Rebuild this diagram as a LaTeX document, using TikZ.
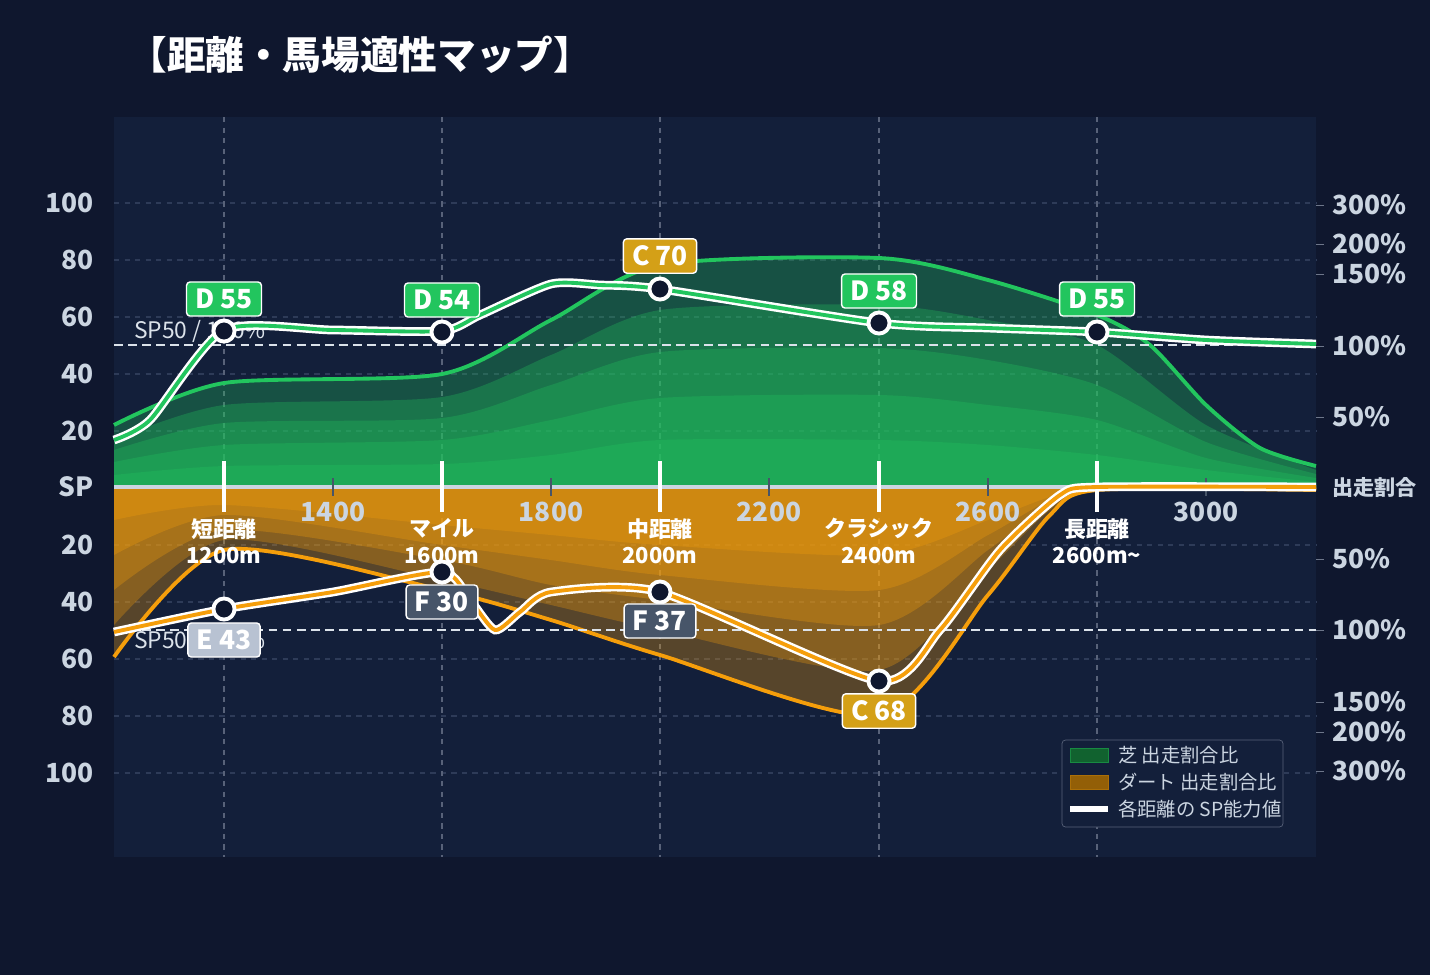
\documentclass[tikz,border=0pt]{standalone}
\usepackage{fontspec}
\setmainfont{Noto Sans CJK JP}
\usetikzlibrary{positioning}
\definecolor{pagebg}{HTML}{0F172E}
\definecolor{plotbg}{HTML}{131F3A}
\definecolor{turf}{HTML}{22C55E}
\definecolor{dirt}{HTML}{F59E0B}
\definecolor{gridc}{HTML}{2E3B58}
\definecolor{axisc}{HTML}{CBD5E1}
\definecolor{gold}{HTML}{D4A017}
\definecolor{slate}{HTML}{475569}
\definecolor{pale}{HTML}{B8C2D2}
\begin{document}
\begin{tikzpicture}[x=0.02cm, y=-0.02cm,
		grid/.style={gridc, dashed, line width=0.6pt},
		vline/.style={gridc!80!white, dashed, line width=0.9pt},
		refline/.style={axisc!70, dash pattern=on 5pt off 3pt, line width=0.9pt},
		ylab/.style={anchor=east, font=\bfseries\fontsize{15}{15}\selectfont, text=axisc},
		rlab/.style={anchor=west, font=\bfseries\fontsize{15}{15}\selectfont, text=axisc},
		xlab/.style={font=\bfseries\fontsize{15}{15}\selectfont, text=axisc},
		catlab/.style={font=\bfseries\fontsize{12.5}{15}\selectfont, text=white, align=center},
		tband/.style={fill=turf, fill opacity=0.3},
		dband/.style={fill=dirt, fill opacity=0.3},
		grade/.style={draw=white, line width=0.8pt, rounded corners=2pt, inner xsep=5pt, inner ysep=4pt, font=\bfseries\fontsize{15}{15}\selectfont, text=white},
		spmark/.style={circle, draw=white, fill=pagebg, line width=2.2pt, inner sep=0pt, minimum size=12pt},
		legtext/.style={anchor=west, font=\fontsize{11}{11}\selectfont, text=axisc}
	]
	\fill[pagebg] (0,0) rectangle (1430,975);
	\useasboundingbox (0,0) rectangle (1430,975);
	\fill[plotbg] (114,117) rectangle (1316,857);

	\node[anchor=west, inner sep=0pt, text=white, font=\bfseries\fontsize{22}{22}\selectfont] (title) at (128,55) {【距離・馬場適性マップ】};

	% grid
	\foreach \y in {203,260,317,374,431,545,602,659,716,773}
		\draw[grid] (114,\y) -- (1316,\y);
	\foreach \x in {224,442,660,879,1097}
		\draw[vline] (\x,117) -- (\x,857);

	% turf bands
	\fill[tband] plot[smooth, tension=0.45] coordinates {(114,425) (224,383) (442,374) (551,320) (660,265) (879,258) (988,280) (1097,315) (1150,345) (1206,405) (1260,448) (1316,466)} -- (1316,487) -- (114,487) -- cycle;
	\fill[tband] plot[smooth, tension=0.45] coordinates {(114,440) (224,405) (442,397) (551,355) (660,310) (879,305) (988,320) (1097,345) (1206,425) (1316,470)} -- (1316,487) -- (114,487) -- cycle;
	\fill[tband] plot[smooth, tension=0.45] coordinates {(114,450) (224,423) (442,418) (551,385) (660,352) (879,348) (988,360) (1097,385) (1206,442) (1316,474)} -- (1316,487) -- (114,487) -- cycle;
	\fill[tband] plot[smooth, tension=0.45] coordinates {(114,462) (224,445) (442,440) (551,420) (660,398) (879,395) (988,405) (1097,420) (1206,458) (1316,478)} -- (1316,487) -- (114,487) -- cycle;
	\fill[tband] plot[smooth, tension=0.45] coordinates {(114,475) (224,466) (442,464) (551,455) (660,440) (879,440) (988,445) (1097,455) (1206,470) (1316,482)} -- (1316,487) -- (114,487) -- cycle;
	\draw[turf, line width=2.2pt] plot[smooth, tension=0.45] coordinates {(114,425) (224,383) (442,374) (551,320) (660,265) (879,258) (988,280) (1097,315) (1150,345) (1206,405) (1260,448) (1316,466)};

	% dirt bands
	\fill[dband] (114,487) -- plot[smooth, tension=0.45] coordinates {(114,657) (224,550) (442,590) (551,620) (660,655) (879,715) (988,595) (1050,515) (1097,490) (1316,490)} -- (1316,487) -- cycle;
	\fill[dband] (114,487) -- plot[smooth, tension=0.45] coordinates {(114,625) (224,540) (442,580) (551,605) (660,630) (879,670) (988,570) (1050,510) (1097,490) (1316,490)} -- (1316,487) -- cycle;
	\fill[dband] (114,487) -- plot[smooth, tension=0.45] coordinates {(114,590) (224,530) (442,560) (551,585) (660,600) (879,625) (988,550) (1050,505) (1097,490) (1316,490)} -- (1316,487) -- cycle;
	\fill[dband] (114,487) -- plot[smooth, tension=0.45] coordinates {(114,555) (224,515) (442,545) (551,560) (660,575) (879,590) (988,535) (1050,500) (1097,490) (1316,490)} -- (1316,487) -- cycle;
	\fill[dband] (114,487) -- plot[smooth, tension=0.45] coordinates {(114,520) (224,505) (442,525) (551,535) (660,545) (879,555) (988,520) (1050,497) (1097,490) (1316,490)} -- (1316,487) -- cycle;
	\draw[dirt, line width=2.2pt] plot[smooth, tension=0.45] coordinates {(114,657) (224,550) (442,590) (551,620) (660,655) (879,715) (988,595) (1050,515) (1097,490) (1316,490)};

	% reference lines
	\draw[refline] (114,345) -- (1316,345);
	\draw[refline] (114,630) -- (1316,630);
	\node[anchor=west, text=axisc!70, font=\fontsize{13}{13}\selectfont] (sp50a) at (128,331) {SP50 / 100\%};
	\node[anchor=west, text=axisc!70, font=\fontsize{13}{13}\selectfont] (sp50b) at (128,641) {SP50 / 100\%};

	% axis line and ticks
	\draw[axisc, line width=2.5pt] (114,487) -- (1316,487);
	\foreach \x in {224,442,660,879,1097}
		\draw[white, line width=2pt] (\x,461) -- (\x,512);
	\foreach \x/\v in {333/1400,551/1800,769/2200,988/2600,1206/3000} {
		\draw[slate, line width=1.5pt] (\x,478) -- (\x,496);
		\node[xlab] (x\v) at (\x,512) {\v};
	}

	% category labels
	\foreach \x/\t/\d in {224/短距離/1200m, 442/マイル/1600m, 660/中距離/2000m, 879/クラシック/2400m, 1097/長距離/2600m\textasciitilde}
		\node[catlab] (cat\x) at (\x,541) {\t\\\d};

	% SP lines
	\draw[white, line width=5pt] plot[smooth, tension=0.4] coordinates {(114,440) (150,420) (224,330) (333,330) (442,331) (480,315) (551,284) (600,285) (660,289) (879,323) (988,328) (1097,332) (1206,340) (1316,344)};
	\draw[turf, line width=2.2pt] plot[smooth, tension=0.4] coordinates {(114,440) (150,420) (224,330) (333,330) (442,331) (480,315) (551,284) (600,285) (660,289) (879,323) (988,328) (1097,332) (1206,340) (1316,344)};
	\draw[white, line width=5pt] plot[smooth, tension=0.4] coordinates {(114,632) (224,609) (333,592) (442,572) (470,600) (495,630) (520,612) (551,592) (660,592) (879,681) (940,630) (1000,550) (1060,495) (1097,487) (1316,487)};
	\draw[dirt, line width=2.2pt] plot[smooth, tension=0.4] coordinates {(114,632) (224,609) (333,592) (442,572) (470,600) (495,630) (520,612) (551,592) (660,592) (879,681) (940,630) (1000,550) (1060,495) (1097,487) (1316,487)};

	% markers and grades
	\foreach \x/\y/\g/\c/\o in {224/331/D 55/turf/-32, 442/332/D 54/turf/-32, 660/289/C 70/gold/-33, 879/323/D 58/turf/-32, 1097/332/D 55/turf/-33,
		224/609/E 43/pale/31, 442/572/F 30/slate/30, 660/592/F 37/slate/29, 879/681/C 68/gold/30} {
		\node[spmark] (m\x\y) at (\x,\y) {};
		\node[grade, fill=\c] (g\x\y) at (\x,\y+\o) {\g};
	}

	% y labels
	\foreach \y/\t in {203/100,260/80,317/60,374/40,431/20,487/SP,545/20,602/40,659/60,716/80,773/100}
		\node[ylab] (yl\y) at (100,\y) {\t};
	\foreach \y/\t in {205/300\%,244/200\%,274/150\%,346/100\%,417/50\%,559/50\%,630/100\%,702/150\%,732/200\%,771/300\%} {
		\draw[gridc!70!white] (1316,\y) -- (1324,\y);
		\node[rlab] (yr\y) at (1326,\y) {\t};
	}
	\node[rlab, font=\bfseries\fontsize{12}{12}\selectfont] (share) at (1326,487) {出走割合};

	% legend
	\draw[gridc!80!white, fill=plotbg, rounded corners=2pt] (1062,740) rectangle (1283,827);
	\fill[turf!50!black, draw=turf!70!black] (1070,748) rectangle (1108,762);
	\fill[dirt!60!black, draw=dirt!70!black] (1070,775) rectangle (1108,789);
	\draw[white, line width=3pt] (1070,809) -- (1108,809);
	\node[legtext] (leg1) at (1112,755) {芝 出走割合比};
	\node[legtext] (leg2) at (1112,782) {ダート 出走割合比};
	\node[legtext] (leg3) at (1112,809) {各距離の SP能力値};
\end{tikzpicture}
\end{document}
